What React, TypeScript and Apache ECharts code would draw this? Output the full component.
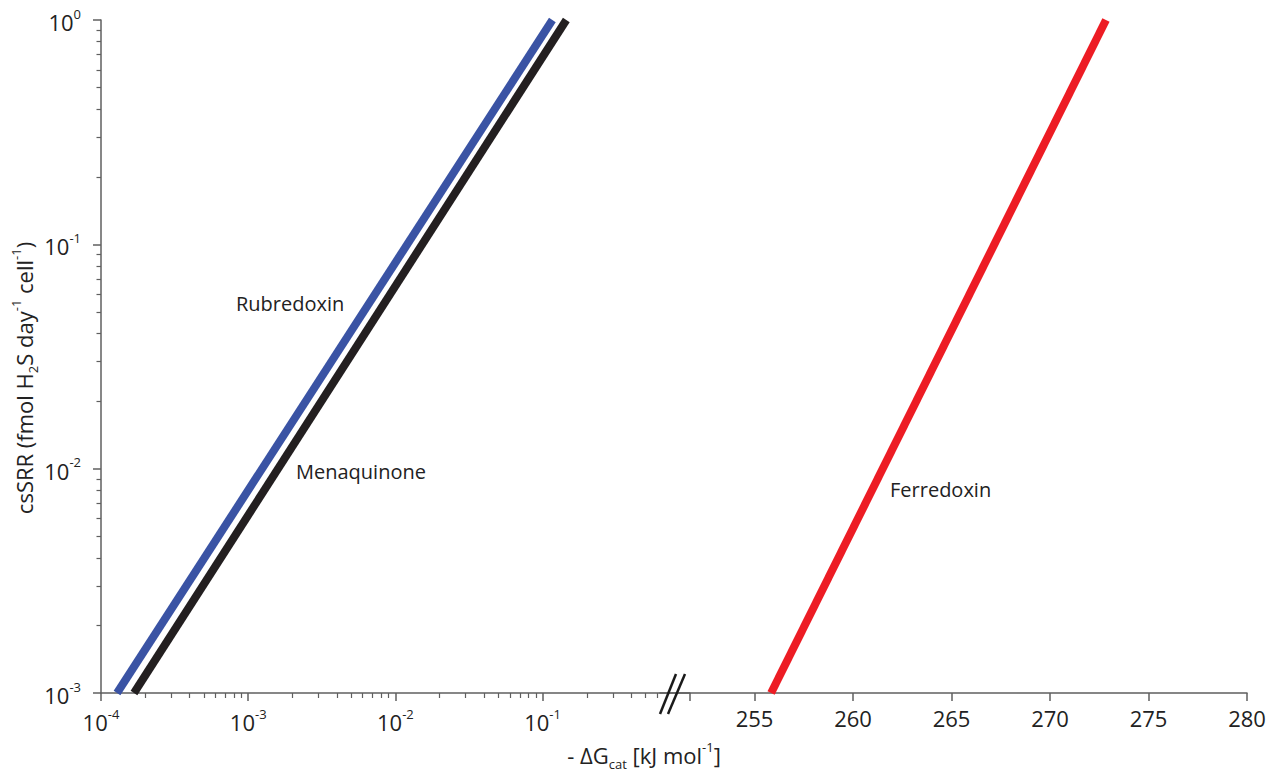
import React, { useEffect, useRef } from 'react';
import * as echarts from 'echarts';

// ---- data ----
const yDecades = [0.001, 0.01, 0.1, 1];
const xLogDecades = [1e-4, 1e-3, 1e-2, 1e-1];
const xLinLabels = [255, 260, 265, 270, 275, 280];
const minorDigits = [2, 3, 4, 5, 6, 7, 8, 9];
const rubredoxin: [number, number][] = [[1.285e-4, 1e-3], [0.1165, 1]];
const menaquinone: [number, number][] = [[1.675e-4, 1e-3], [0.1449, 1]];
const ferredoxin: [number, number][] = [[255.84, 1e-3], [272.84, 1]];
const annotations = [
  { text: 'Rubredoxin', x: 236, y: 303 },
  { text: 'Menaquinone', x: 296, y: 471 },
  { text: 'Ferredoxin', x: 890, y: 489 },
];

const FONT = '"Open Sans", sans-serif';
const AXIS = '#5f5f5f';
const TXT = '#222';

const richLabel = {
  b: { fontSize: 22, lineHeight: 26, fontFamily: FONT, color: TXT, verticalAlign: 'bottom' },
  s: { fontSize: 13, lineHeight: 13, fontFamily: FONT, color: TXT, verticalAlign: 'top' },
};
const pow10Label = (v: number) => {
  const e = Math.round(Math.log10(v));
  return `{b|10}{s|${e}}`;
};

// minor tick positions (log10 space) for decorative tick overlays
const minorLogTicks = (decades: number[], skip: number[] = []) => {
  const out: number[] = [];
  decades.forEach((d) => {
    minorDigits.forEach((k) => {
      const v = d * k;
      if (!skip.some((s) => Math.abs(s - v) < 1e-9)) out.push(Math.log10(v));
    });
  });
  return out;
};

const titleRich = {
  b: { fontSize: 22, lineHeight: 26, fontFamily: FONT, fill: TXT, color: TXT, verticalAlign: 'bottom' },
  s: { fontSize: 13, lineHeight: 13, fontFamily: FONT, fill: TXT, color: TXT, verticalAlign: 'top' },
  sub: { fontSize: 13, lineHeight: 13, fontFamily: FONT, fill: TXT, color: TXT, verticalAlign: 'bottom', padding: [0, 0, -4, 0] },
};

export default function App() {
  const ref = useRef<HTMLDivElement>(null);
  useEffect(() => {
    document.body.style.margin = '0';
    const chart = echarts.init(ref.current!, null, { renderer: 'svg' });
    const axisLine = { show: true, onZero: false, lineStyle: { color: AXIS, width: 1.5 } };
    const hiddenLine = { show: false, onZero: false };
    const xMinor = minorLogTicks(xLogDecades, [0.7, 0.8, 0.9]);
    const yMinor = minorLogTicks([0.001, 0.01, 0.1]);
    chart.setOption({
      animation: false,
      backgroundColor: '#fff',
      grid: [
        { left: 101, top: 20, width: 588.8, height: 673, outerBoundsMode: 'none' },
        { left: 660, top: 20, width: 587, height: 673, outerBoundsMode: 'none' },
      ],
      xAxis: [
        {
          type: 'log', gridIndex: 0, position: 'bottom', min: 1e-4, max: 1, logBase: 10,
          axisLine, splitLine: { show: false },
          axisTick: { show: true, length: 8, lineStyle: { color: AXIS, width: 1.5 } },
          axisLabel: {
            margin: 14,
            formatter: (v: number) => (xLogDecades.some((d) => Math.abs(d - v) / d < 1e-6) ? pow10Label(v) : ''),
            rich: richLabel,
          },
        },
        {
          type: 'value', gridIndex: 0, position: 'bottom', offset: 0, min: -4, max: 0,
          axisLine: hiddenLine, splitLine: { show: false },
          axisTick: { show: true, length: 5, customValues: xMinor, lineStyle: { color: AXIS, width: 1.2 } },
          axisLabel: { show: false },
        },
        {
          type: 'value', gridIndex: 1, position: 'bottom', min: 250.2, max: 280,
          axisLine, splitLine: { show: false },
          axisTick: { show: true, length: 8, customValues: xLinLabels, lineStyle: { color: AXIS, width: 1.5 } },
          axisLabel: {
            customValues: xLinLabels, margin: 14,
            fontSize: 22, fontFamily: FONT, color: TXT,
          },
        },
      ],
      yAxis: [
        {
          type: 'log', gridIndex: 0, position: 'left', min: 1e-3, max: 1, logBase: 10,
          axisLine, splitLine: { show: false },
          axisTick: { show: true, length: 8, lineStyle: { color: AXIS, width: 1.5 } },
          axisLabel: { margin: 20, formatter: (v: number) => pow10Label(v), rich: richLabel },
        },
        {
          type: 'value', gridIndex: 0, position: 'left', offset: 0, min: -3, max: 0,
          axisLine: hiddenLine, splitLine: { show: false },
          axisTick: { show: true, length: 4.5, customValues: yMinor, lineStyle: { color: AXIS, width: 1.2 } },
          axisLabel: { show: false },
        },
        {
          type: 'log', gridIndex: 1, position: 'left', min: 1e-3, max: 1, logBase: 10,
          axisLine: hiddenLine, axisTick: { show: false }, axisLabel: { show: false }, splitLine: { show: false },
        },
      ],
      series: [
        {
          name: 'Rubredoxin', type: 'line', xAxisIndex: 0, yAxisIndex: 0, data: rubredoxin,
          symbol: 'none', clip: false, lineStyle: { width: 8, color: '#3a53a4', cap: 'butt' }, z: 3,
        },
        {
          name: 'Menaquinone', type: 'line', xAxisIndex: 0, yAxisIndex: 0, data: menaquinone,
          symbol: 'none', clip: false, lineStyle: { width: 8, color: '#231f20', cap: 'butt' }, z: 3,
        },
        {
          name: 'Ferredoxin', type: 'line', xAxisIndex: 2, yAxisIndex: 2, data: ferredoxin,
          symbol: 'none', clip: false, lineStyle: { width: 8, color: '#ed1c24', cap: 'butt' }, z: 3,
        },
      ],
      graphic: [
        ...annotations.map((a) => ({
          type: 'text', x: a.x, y: a.y,
          style: { text: a.text, fontSize: 20, fontFamily: FONT, fill: TXT, align: 'left', verticalAlign: 'middle', textAlign: 'left', textVerticalAlign: 'middle' },
        })),
        {
          type: 'text', x: 22, y: 378, rotation: Math.PI / 2,
          style: {
            text: '{b|csSRR (fmol H}{sub|2}{b|S day}{s|-1}{b| cell}{s|-1}{b|)}',
            align: 'center', verticalAlign: 'middle', textAlign: 'center', textVerticalAlign: 'middle',
            rich: titleRich,
          },
        },
        {
          type: 'text', x: 644, y: 753,
          style: {
            text: '{b|- ΔG}{sub|cat}{b| [kJ mol}{s|-1}{b|]}',
            align: 'center', verticalAlign: 'middle', textAlign: 'center', textVerticalAlign: 'middle',
            rich: titleRich,
          },
        },
        {
          type: 'rect', shape: { x: 664, y: 686, width: 18, height: 5 }, style: { fill: '#fff' }, z: 10,
        },
        { type: 'line', shape: { x1: 660, y1: 714, x2: 676, y2: 674 }, style: { stroke: '#1a1a1a', lineWidth: 2.5 }, z: 11 },
        { type: 'line', shape: { x1: 668, y1: 714, x2: 685, y2: 674 }, style: { stroke: '#1a1a1a', lineWidth: 2.5 }, z: 11 },
      ],
    });
    return () => chart.dispose();
  }, []);
  return <div ref={ref} style={{ width: 1268, height: 776 }} />;
}
